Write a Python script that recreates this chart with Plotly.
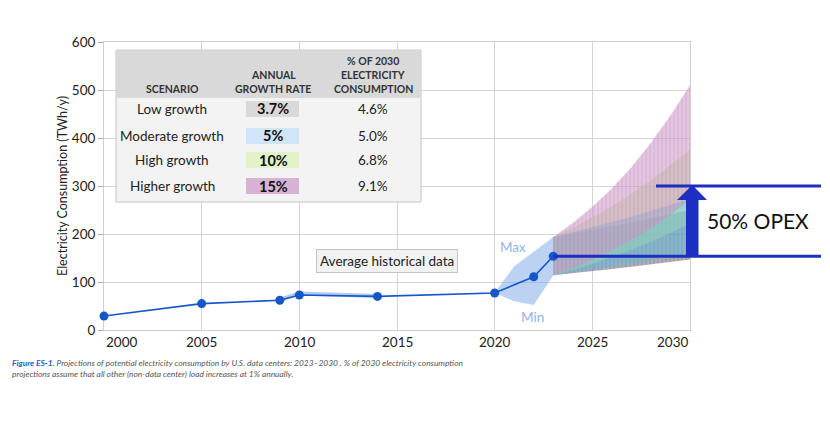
import plotly.graph_objects as go

# ---------------- data ----------------
hist_years = [2000, 2005, 2009, 2010, 2014, 2020, 2022, 2023]
hist_values = [29, 55, 62, 73, 70, 77, 111, 153.5]

alt_years = [2009, 2010, 2014]
alt_values = [63, 76, 71]

band_years = [2020, 2021, 2022, 2023]
band_max = [77, 133, 163, 194]
band_min = [77, 60, 52, 114]

proj_years = [2023, 2024, 2025, 2026, 2027, 2028, 2029, 2030]
low_lo = [114, 118, 123, 127, 132, 137, 142, 147]
low_hi = [194, 201, 209, 216, 224, 233, 241, 250]
mod_lo = [114, 120, 126, 132, 139, 146, 153, 160]
mod_hi = [194, 204, 214, 225, 236, 248, 260, 273]
high_lo = [114, 125, 138, 152, 167, 184, 202, 222]
high_hi = [194, 213, 235, 258, 284, 312, 344, 376]
higher_lo = [114, 129, 146, 165, 187, 212, 240, 272]
higher_hi = [194, 223, 257, 295, 339, 390, 447, 510]

scenarios = ["Low growth", "Moderate growth", "High growth", "Higher growth"]
growth_rates = ["3.7%", "5%", "10%", "15%"]
shares_2030 = ["4.6%", "5.0%", "6.8%", "9.1%"]
scenario_colors = ["#d9d9d9", "#cfe5f8", "#e3f3c6", "#d8b2d4"]

x_ticks = [2000, 2005, 2010, 2015, 2020, 2025, 2030]
x_tick_labels = ["2000", "2005", "2010", "2015", "2020", "2025", "2030"]
y_ticks = [0, 100, 200, 300, 400, 500, 600]

opex_low = 153.5
opex_high = 300

# ---------------- layout helpers ----------------
# the page has an 8px body margin, so the figure is drawn from (8, 8)
OFF = 8
W, H = 830 - OFF, 421 - OFF
L, R, T, B = 104 - OFF, 140, 42 - OFF, 91
PW, PH = W - L - R, H - T - B


def px(x):  # reference-window pixel -> paper x
    return (x - OFF - L) / PW


def py(y):  # reference-window pixel -> paper y
    return (H - B - (y - OFF)) / PH


BLUE = "#1557c8"
FONT = "Lato"

fig = go.Figure()

# projection bands (bottom to top)
bands = [
    (low_lo, low_hi, "rgba(115,115,130,0.58)", "|", "rgba(95,95,110,0.45)"),
    (high_lo, high_hi, "rgba(200,230,150,0.60)", "", None),
    (mod_lo, mod_hi, "rgba(95,185,220,0.50)", "", None),
    (higher_lo, higher_hi, "rgba(205,150,200,0.55)", "|", "rgba(165,115,160,0.45)"),
]
for lo, hi, col, pat, fg in bands:
    fig.add_trace(go.Scatter(x=proj_years, y=lo, mode="lines", line=dict(width=0),
                             hoverinfo="skip", showlegend=False))
    kw = dict(fill="tonexty", fillcolor=col, mode="lines", line=dict(width=0),
              hoverinfo="skip", showlegend=False)
    if pat:
        kw["fillpattern"] = dict(shape=pat, fgcolor=fg, bgcolor=col, size=4, solidity=0.35,
                                 fillmode="overlay")
    fig.add_trace(go.Scatter(x=proj_years, y=hi, **kw))

# min/max band
fig.add_trace(go.Scatter(x=band_years + band_years[::-1], y=band_max + band_min[::-1],
                         fill="toself", fillcolor="rgba(120,165,230,0.50)", mode="lines",
                         line=dict(width=0), hoverinfo="skip", showlegend=False))

# faint alternate historical line
fig.add_trace(go.Scatter(x=alt_years, y=alt_values, mode="lines",
                         line=dict(color="rgba(110,160,225,0.55)", width=4),
                         hoverinfo="skip", showlegend=False))

# historical line
fig.add_trace(go.Scatter(x=hist_years, y=hist_values, mode="lines+markers",
                         line=dict(color=BLUE, width=1.6),
                         marker=dict(color=BLUE, size=9), cliponaxis=False,
                         showlegend=False))

shapes = []
annots = []

# ---------------- x tick labels (end labels kept inside the frame) ----------------
for i, (tv, tl) in enumerate(zip(x_ticks, x_tick_labels)):
    anchor = "left" if i == 0 else ("right" if i == len(x_ticks) - 1 else "center")
    annots.append(dict(x=tv, xref="x", y=py(342), yref="paper", text=tl, showarrow=False,
                       xanchor=anchor, yanchor="middle",
                       font=dict(family=FONT, size=13.5, color="#222")))

# ---------------- table ----------------
tx0, tx1 = px(116), px(421)
shapes.append(dict(type="rect", xref="paper", yref="paper", x0=tx0, x1=tx1, y0=py(202), y1=py(50),
                   fillcolor="#f3f3f3", line=dict(color="#c4c4c4", width=1), layer="above"))
shapes.append(dict(type="rect", xref="paper", yref="paper", x0=tx0, x1=tx1, y0=py(98), y1=py(50),
                   fillcolor="#d9d9d9", line=dict(width=0), layer="above"))
col_x = [px(172), px(273), px(373)]
hdr_font = dict(family=FONT, size=10.5, color="#333333")
headers = [["SCENARIO"], ["ANNUAL", "GROWTH RATE"], ["% OF 2030", "ELECTRICITY", "CONSUMPTION"]]
hdr_rows = [89, 75, 61]
for cx, lines in zip(col_x, headers):
    for i, txt in enumerate(reversed(lines)):
        annots.append(dict(xref="paper", yref="paper", x=cx, y=py(hdr_rows[i]), text="<b>" + txt + "</b>",
                           showarrow=False, font=hdr_font, xanchor="center", yanchor="middle"))
row_y = [109, 136, 160, 186]
for ry, sc, gr, sh, colr in zip(row_y, scenarios, growth_rates, shares_2030, scenario_colors):
    shapes.append(dict(type="rect", xref="paper", yref="paper", x0=px(246), x1=px(299),
                       y0=py(ry + 8), y1=py(ry - 8), fillcolor=colr, line=dict(width=0), layer="above"))
    annots.append(dict(xref="paper", yref="paper", x=col_x[0], y=py(ry), text=sc, showarrow=False,
                       font=dict(family=FONT, size=13.5, color="#222"), xanchor="center", yanchor="middle"))
    annots.append(dict(xref="paper", yref="paper", x=col_x[1], y=py(ry), text="<b>" + gr + "</b>",
                       showarrow=False, font=dict(family=FONT, size=14.5, color="#111"),
                       xanchor="center", yanchor="middle"))
    annots.append(dict(xref="paper", yref="paper", x=col_x[2], y=py(ry), text=sh, showarrow=False,
                       font=dict(family=FONT, size=13.5, color="#222"), xanchor="center", yanchor="middle"))

# ---------------- labels ----------------
annots.append(dict(x=2014.5, y=144, xref="x", yref="y", text="Average historical data", showarrow=False,
                   font=dict(family=FONT, size=13.5, color="#222"), bgcolor="#f2f2f2",
                   bordercolor="#c4c4c4", borderwidth=1, borderpad=3))
annots.append(dict(x=2020.95, y=172, xref="x", yref="y", text="Max", showarrow=False,
                   font=dict(family=FONT, size=13.5, color="#8cb6ea")))
annots.append(dict(x=2021.95, y=27, xref="x", yref="y", text="Min", showarrow=False,
                   font=dict(family=FONT, size=13.5, color="#8cb6ea")))

# ---------------- 50% OPEX ----------------
OPX = "#1c2fc0"
shapes.append(dict(type="line", xref="paper", yref="y", x0=px(656), x1=px(821), y0=opex_high, y1=opex_high,
                   line=dict(color=OPX, width=3), layer="above"))
shapes.append(dict(type="line", xref="paper", yref="y", x0=(2023 - 2000) / 30, x1=px(821),
                   y0=opex_low, y1=opex_low, line=dict(color=OPX, width=3), layer="above"))
shapes.append(dict(type="rect", xref="paper", yref="paper", x0=px(686), x1=px(698.5),
                   y0=py(256), y1=py(199), fillcolor=OPX, line=dict(width=0), layer="above"))
shapes.append(dict(type="path", xref="paper", yref="paper",
                   path=f"M {px(677)} {py(200)} L {px(692.3)} {py(185)} L {px(707)} {py(200)} Z",
                   fillcolor=OPX, line=dict(width=0), layer="above"))
annots.append(dict(xref="paper", yref="paper", x=px(705), y=py(220), text="50% OPEX", showarrow=False,
                   xanchor="left", yanchor="middle", font=dict(family=FONT, size=21, color="#111")))

# ---------------- caption ----------------
cap = ("<b style='color:#2262c6'>Figure ES-1.</b> Projections of potential electricity consumption by U.S. "
       "data centers: 2023–2030 . % of 2030 electricity consumption<br>"
       "projections assume that all other (non-data center) load increases at 1% annually.")
annots.append(dict(xref="paper", yref="paper", x=px(10), y=py(356), text="<i>" + cap + "</i>",
                   showarrow=False, xanchor="left", yanchor="top", align="left",
                   font=dict(family="Lato", size=8.4, color="#555")))

fig.update_layout(
    width=W, height=H, margin=dict(l=L, r=R, t=T, b=B, pad=0),
    paper_bgcolor="white", plot_bgcolor="white",
    shapes=shapes, annotations=annots, showlegend=False,
    font=dict(family=FONT, color="#222"),
    xaxis=dict(range=[2000, 2030], tickvals=x_ticks, showticklabels=False, showgrid=True,
               gridcolor="#d4d4d4", gridwidth=1, showline=True, linecolor="#cfcfcf", mirror=True,
               ticks="", zeroline=False, layer="below traces"),
    yaxis=dict(range=[0, 600], tickvals=y_ticks, showgrid=True, gridcolor="#d4d4d4", gridwidth=1,
               showline=True, linecolor="#cfcfcf", mirror=True, ticks="outside", ticklen=5,
               tickcolor="#aaaaaa", tickfont=dict(family=FONT, size=13.5, color="#222"),
               zeroline=False, title=dict(text="Electricity Consumption (TWh/y)", standoff=1,
                                          font=dict(family=FONT, size=12.5, color="#222")),
               layer="below traces"),
)

fig.write_html("out.html")
